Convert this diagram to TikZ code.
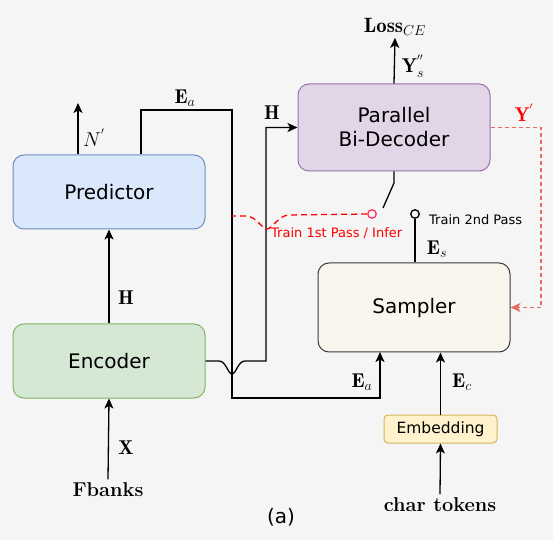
\RequirePackage{fix-cm}
\documentclass[tikz,border=0pt]{standalone}
\usepackage{amsmath}
\usepackage{amssymb}
\usepackage{fontspec}
\newfontfamily\boxfont{DejaVu Sans}
\usetikzlibrary{arrows,arrows.meta,positioning,shapes}
\pgfdeclarelayer{background layer}
\pgfsetlayers{background layer,main}
\definecolor{grey}{gray}{0.96}
\definecolor{predfill}{HTML}{DAE8FC}
\definecolor{preddraw}{HTML}{6C8EBF}
\definecolor{encfill}{HTML}{D5E8D4}
\definecolor{encdraw}{HTML}{82B366}
\definecolor{decfill}{HTML}{E1D5E7}
\definecolor{decdraw}{HTML}{9673A6}
\definecolor{smpfill}{HTML}{F9F7ED}
\definecolor{smpdraw}{HTML}{36393D}
\definecolor{embfill}{HTML}{FFF2CC}
\definecolor{embdraw}{HTML}{D6B656}
\definecolor{swred}{HTML}{FF3366}
\definecolor{ydash}{HTML}{EA6B66}

\begin{document}
\begin{tikzpicture}[x=1pt,y=-1pt]
\tikzstyle{block}=[draw,rounded corners=11pt,line width=1pt,minimum width=192pt,align=center,font=\boxfont\fontsize{20}{24}\selectfont]
\tikzstyle{arrow}=[line width=1.3pt,->,>={Stealth[length=10pt,width=9pt,inset=2.5pt]}]
\tikzstyle{wire}=[line width=1.3pt]
\tikzstyle{lbl}=[font=\fontsize{20}{24}\selectfont,inner sep=1pt]
\tikzstyle{note}=[font=\boxfont\fontsize{13}{15}\selectfont,inner sep=1pt]
\tikzstyle{redline}=[red,line width=1.3pt,dash pattern=on 6pt off 4pt]
\tikzstyle{swdot}=[circle,draw,line width=1.3pt,inner sep=0pt,minimum size=8.5pt]
\useasboundingbox (0,0) rectangle (557,545);
% boxes
\node [block,fill=predfill,draw=preddraw,minimum height=74pt] at (109,192) (pred) {Predictor};
\node [block,fill=encfill,draw=encdraw,minimum height=74pt] at (109,361) (enc) {Encoder};
\node [block,fill=decfill,draw=decdraw,minimum height=87pt] at (394,127.5) (dec) {Parallel\\Bi-Decoder};
\node [block,fill=smpfill,draw=smpdraw,minimum height=89pt] at (414,307.5) (smp) {Sampler};
\node [block,fill=embfill,draw=embdraw,minimum width=113pt,minimum height=28pt,rounded corners=4pt,font=\boxfont\fontsize{15.5}{18}\selectfont] at (440.5,429) (emb) {Embedding};
% inputs and outputs
\node [font=\fontsize{20}{24}\selectfont] at (108,490) (fbanks) {\textbf{Fbanks}};
\node [font=\fontsize{20}{24}\selectfont] at (440,505) (chars) {\textbf{char tokens}};
\node [font=\fontsize{20.74}{24}\selectfont,inner sep=2pt] at (395,27) (loss) {$\mathbf{Loss}_{CE}$};
\node [font=\boxfont\fontsize{20}{24}\selectfont] at (281,517) (cap) {(a)};
% switch
\node [swdot,draw=swred] at (372,214) (sw1) {};
\node [swdot,draw=black] at (415,214) (sw2) {};
\coordinate (swtop) at (394,183);
\coordinate (swend) at (383,208);
\coordinate (nout) at (78,103);
\coordinate (eaup) at (141,110);
\coordinate (eadown) at (232,398);
\coordinate (eain) at (380,352);
\coordinate (hturn) at (266,361);
\coordinate (yturn) at (541,220);
\coordinate (redend) at (232,216);
% connectors
\draw [arrow] (fbanks.north) -- (enc.south);
\draw [arrow] (enc.north) -- (pred.south);
\draw [arrow] (pred.north -| nout) -- (nout);
\draw [arrow] (eaup |- pred.north) -- (eaup) -| (eadown) -| (eain);
\draw [arrow] (enc.east) -- (219,361) .. controls (226,361) and (228,374) .. (232,374) .. controls (236,374) and (238,361) .. (245,361) -- (hturn) |- (dec.west);
\draw [arrow] (dec.north) -- (loss.south);
\draw [wire] (dec.south) -- (swtop) -- (swend);
\draw [wire] (sw2) -- (sw2 |- smp.north);
\draw [arrow] (emb.north) -- (emb.north |- smp.south);
\draw [arrow] (chars.north) -- (emb.south);
\draw [redline] (sw1.west) -- (289,215) .. controls (279,215) and (272,229) .. (267,229) .. controls (262,229) and (256,216) .. (246,216) -- (redend);
\draw [ydash,line width=1.3pt,dash pattern=on 4pt off 3pt,->,>={Stealth[length=10pt,width=9pt,inset=2.5pt]}] (dec.east) -| (yturn) |- (smp.east);
% labels
\node [lbl] at (126,298) (lh1) {$\mathbf{H}$};
\node [lbl] at (126,448) (lx) {$\mathbf{X}$};
\node [lbl] at (94,138) (ln) {$N^{'}$};
\node [lbl] at (185,98) (lea1) {$\mathbf{E}_a$};
\node [lbl] at (272,113) (lh2) {$\mathbf{H}$};
\node [lbl] at (362,382) (lea2) {$\mathbf{E}_a$};
\node [lbl] at (462,382) (lec) {$\mathbf{E}_c$};
\node [lbl] at (437,249) (les) {$\mathbf{E}_s$};
\node [lbl] at (413,66) (lys) {$\mathbf{Y}_s^{''}$};
\node [lbl,red] at (524,113) (ly) {$\mathbf{Y}^{'}$};
\node [note,anchor=west] at (428,220) (t2) {Train 2nd Pass};
\node [note,anchor=west,red] at (270,233) (t1) {Train 1st Pass / Infer};
\begin{pgfonlayer}{background layer}
\fill [grey] (0,0) rectangle (553,540);
\end{pgfonlayer}
\end{tikzpicture}
\end{document}
